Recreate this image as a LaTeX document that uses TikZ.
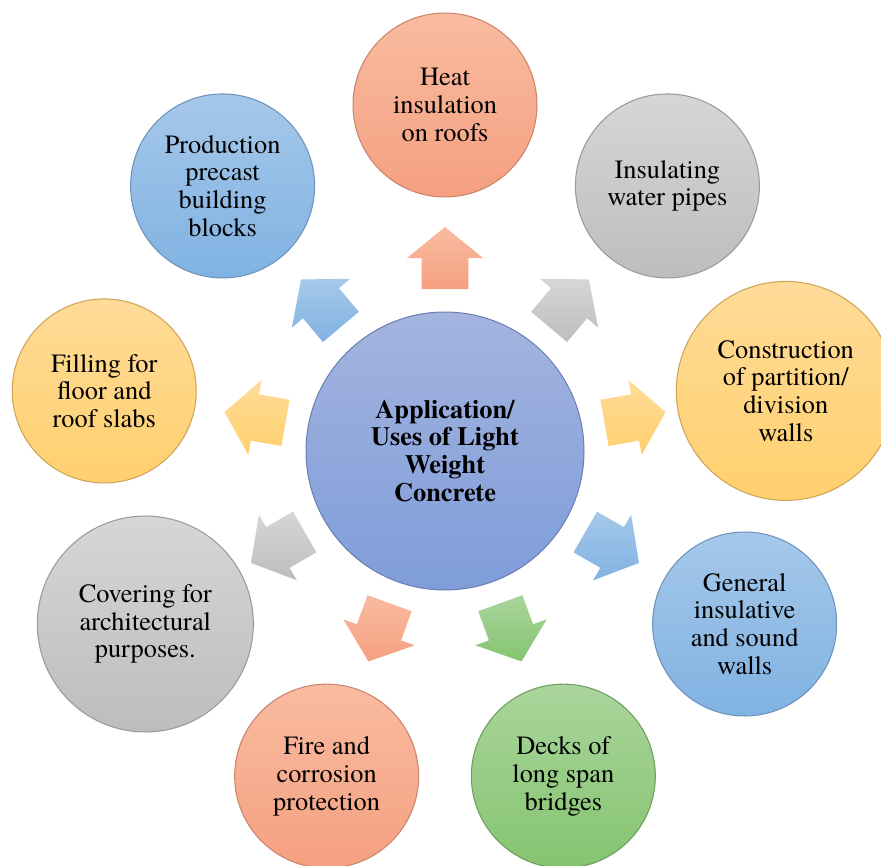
\documentclass[tikz,border=0pt]{standalone}
\usepackage{fontspec}
\setmainfont{TeX Gyre Termes}
\usetikzlibrary{calc}

% Colours (top / bottom of the gradient, outline)
\definecolor{salmontop}{HTML}{F9BBA1}
\definecolor{salmonbot}{HTML}{F5A080}
\definecolor{salmonline}{HTML}{C8866A}
\definecolor{greytop}{HTML}{D6D6D6}
\definecolor{greybot}{HTML}{BDBDBD}
\definecolor{greyline}{HTML}{9A9A9A}
\definecolor{yellowtop}{HTML}{FFDB98}
\definecolor{yellowbot}{HTML}{FFD06E}
\definecolor{yellowline}{HTML}{CFA457}
\definecolor{bluetop}{HTML}{A6C8EA}
\definecolor{bluebot}{HTML}{80B2E2}
\definecolor{blueline}{HTML}{6C93BC}
\definecolor{greentop}{HTML}{AAD59C}
\definecolor{greenbot}{HTML}{85C470}
\definecolor{greenline}{HTML}{6F9D60}
\definecolor{centretop}{HTML}{A4B4DF}
\definecolor{centrebot}{HTML}{7E9DDA}
\definecolor{centreline}{HTML}{6D80B4}

\tikzset{
  usecircle/.style={circle, draw=#1line, line width=0.6pt, top color=#1top, bottom color=#1bot,
    inner sep=0pt, minimum size=3.68cm, align=center, font=\fontsize{15}{15.8}\selectfont},
}

% block arrow from the centre towards node #1, coloured #2
\newcommand{\blockarrow}[2]{%
  \path ($(centre)!3.24cm!(#1)$) coordinate (#1-b)
        ($(centre)!3.86cm!(#1)$) coordinate (#1-h)
        ($(centre)!4.48cm!(#1)$) coordinate (#1-t);
  \shade[top color=#2top, bottom color=#2bot]
    ($(#1-b)!0.47cm!90:(#1-t)$) -- ($(#1-h)!0.47cm!90:(#1-t)$) -- ($(#1-h)!0.76cm!90:(#1-t)$)
    -- (#1-t) -- ($(#1-h)!0.76cm!-90:(#1-t)$) -- ($(#1-h)!0.47cm!-90:(#1-t)$)
    -- ($(#1-b)!0.47cm!-90:(#1-t)$) -- cycle;}

\begin{document}
\begin{tikzpicture}[x=0.02cm, y=0.02cm]
        \useasboundingbox (-445,-414) rectangle (436,451);
        \clip (-445,-414) rectangle (436,451);

        % Centre
        \node[usecircle=centre, minimum size=5.56cm, font=\fontsize{15}{15.8}\selectfont\bfseries] (centre) at (0,0)
            {Application/\\Uses of Light\\Weight\\Concrete};

        % Outer circles
        \node[usecircle=salmon] (heat) at (90:346) {Heat\\insulation\\on roofs};
        \node[usecircle=grey] (pipes) at (50:346) {Insulating\\water pipes};
        \node[usecircle=yellow, minimum size=4.38cm] (partition) at (10:346) {Construction\\of partition/\\division\\walls};
        \node[usecircle=blue] (sound) at (-30:346) {General\\insulative\\and sound\\walls};
        \node[usecircle=green] (bridges) at (-70:346) {Decks of\\long span\\bridges};
        \node[usecircle=salmon] (fire) at (-110:346) {Fire and\\corrosion\\protection};
        \node[usecircle=grey, minimum size=4.32cm] (covering) at (-150:346) {Covering for\\architectural\\purposes.};
        \node[usecircle=yellow] (filling) at (170:346) {Filling for\\floor and\\roof slabs};
        \node[usecircle=blue] (blocks) at (130:346) {Production\\precast\\building\\blocks};

        % Arrows
        \blockarrow{heat}{salmon}
        \blockarrow{pipes}{grey}
        \blockarrow{partition}{yellow}
        \blockarrow{sound}{blue}
        \blockarrow{bridges}{green}
        \blockarrow{fire}{salmon}
        \blockarrow{covering}{grey}
        \blockarrow{filling}{yellow}
        \blockarrow{blocks}{blue}
    \end{tikzpicture}
\end{document}
